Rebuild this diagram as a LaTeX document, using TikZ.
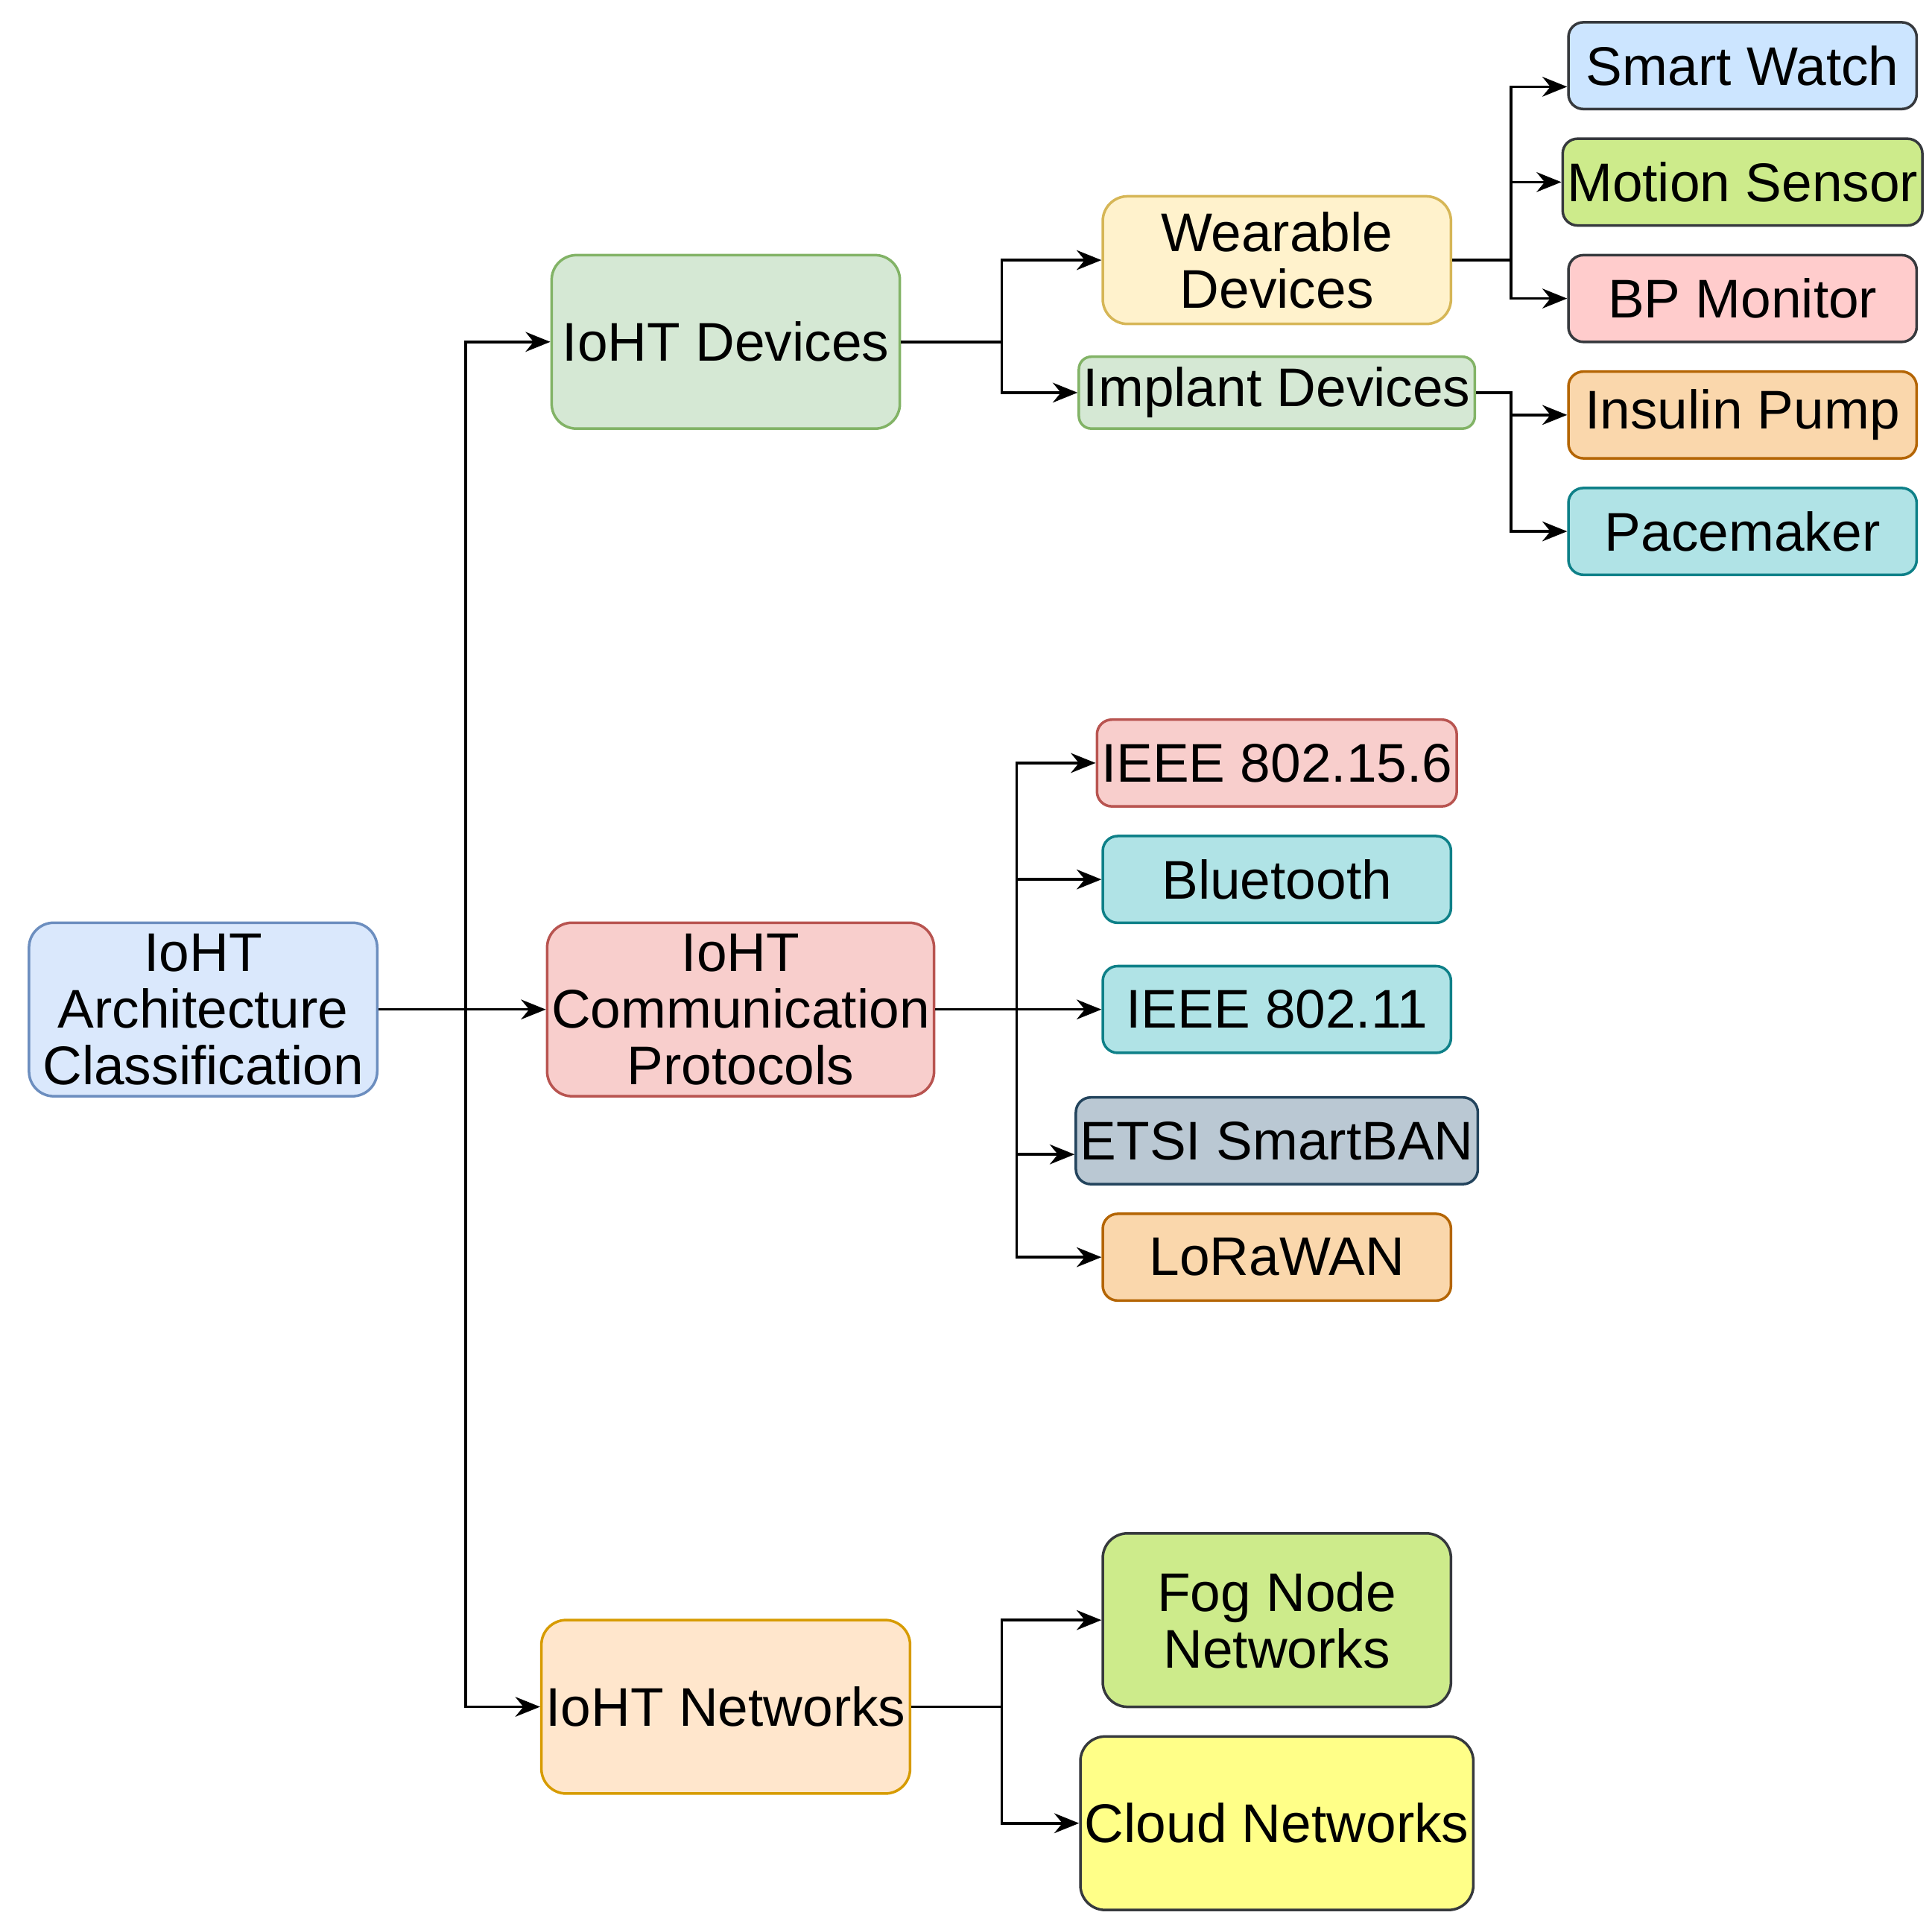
\documentclass[tikz,border=0pt]{standalone}
\usepackage{fontspec}
\setmainfont{Liberation Sans}
\usetikzlibrary{arrows.meta,positioning}
\definecolor{blueF}{HTML}{DAE8FC}\definecolor{blueD}{HTML}{6C8EBF}
\definecolor{greenF}{HTML}{D5E8D4}\definecolor{greenD}{HTML}{82B366}
\definecolor{redF}{HTML}{F8CECC}\definecolor{redD}{HTML}{B85450}
\definecolor{orangeF}{HTML}{FFE6CC}\definecolor{orangeD}{HTML}{D79B00}
\definecolor{yellowF}{HTML}{FFF2CC}\definecolor{yellowD}{HTML}{D6B656}
\definecolor{skyF}{HTML}{CCE5FF}\definecolor{darkD}{HTML}{36393D}
\definecolor{limeF}{HTML}{CDEB8B}\definecolor{pinkF}{HTML}{FFCCCC}
\definecolor{peachF}{HTML}{FAD7AC}\definecolor{peachD}{HTML}{B46504}
\definecolor{tealF}{HTML}{B0E3E6}\definecolor{tealD}{HTML}{0E8088}
\definecolor{slateF}{HTML}{BAC8D3}\definecolor{slateD}{HTML}{23445D}
\definecolor{lemonF}{HTML}{FFFF88}
\begin{document}
\begin{tikzpicture}[x=0.01cm,y=-0.01cm]
    \tikzset{Caja/.style = {shape=rectangle,rounded corners=0.2cm,draw,line width=0.6pt,minimum width=2.81cm,inner sep=1pt,align=center,font=\fontsize{12.5}{13}\selectfont}}
    \tikzset{Grande/.style = {Caja,minimum height=1.4cm}}
    \tikzset{Chica/.style = {Caja,minimum height=0.7cm,rounded corners=0.12cm}}
    \tikzset{flecha/.style = {-{Stealth[length=0.2cm,width=0.16cm]},line width=0.6pt,black}}

    \useasboundingbox (0,0) rectangle (1560,1553);

    \node[Grande,fill=blueF,draw=blueD] (raiz) at (164,815) {IoHT\\Architecture\\Classification};

    \node[Grande,fill=greenF,draw=greenD] (dispositivos) at (586,276) {IoHT Devices};
    \node[Grande,fill=redF,draw=redD,minimum width=3.04cm] (protocolos) at (598,815) {IoHT\\Communication\\Protocols};
    \node[Grande,fill=orangeF,draw=orangeD] (redes) at (586,1378) {IoHT Networks};

    \node[Caja,fill=yellowF,draw=yellowD,minimum height=1.03cm] (vestibles) at (1031,210) {Wearable\\Devices};
    \node[Caja,fill=greenF,draw=greenD,minimum height=0.58cm,rounded corners=0.1cm] (implantes) at (1031,317) {Implant Devices};

    \node[Chica,fill=skyF,draw=darkD] (reloj) at (1407,53) {Smart Watch};
    \node[Chica,fill=limeF,draw=darkD] (movimiento) at (1407,147) {Motion Sensor};
    \node[Chica,fill=pinkF,draw=darkD] (presion) at (1407,241) {BP Monitor};
    \node[Chica,fill=peachF,draw=peachD] (insulina) at (1407,335) {Insulin Pump};
    \node[Chica,fill=tealF,draw=tealD] (marcapasos) at (1407,429) {Pacemaker};

    \node[Chica,fill=redF,draw=redD] (ieeeBan) at (1031,616) {IEEE 802.15.6};
    \node[Chica,fill=tealF,draw=tealD] (bluetooth) at (1031,710) {Bluetooth};
    \node[Chica,fill=tealF,draw=tealD] (ieeeWifi) at (1031,815) {IEEE 802.11};
    \node[Chica,fill=slateF,draw=slateD] (etsi) at (1031,921) {ETSI SmartBAN};
    \node[Chica,fill=peachF,draw=peachD] (lora) at (1031,1015) {LoRaWAN};

    \node[Grande,fill=limeF,draw=darkD] (niebla) at (1031,1308) {Fog Node\\Networks};
    \node[Grande,fill=lemonF,draw=darkD] (nube) at (1031,1472) {Cloud Networks};

    %Raiz a categorias
    \draw [flecha] (raiz.east) -- (376,815) |- (dispositivos.west);
    \draw [flecha] (raiz.east) -- (protocolos.west);
    \draw [flecha] (raiz.east) -- (376,815) |- (redes.west);

    %Dispositivos
    \draw [flecha] (dispositivos.east) -- (809,276) |- (vestibles.west);
    \draw [flecha] (dispositivos.east) -- (809,276) |- (implantes.west);

    \draw [flecha] (vestibles.east) -- (1220,210) |- ([yshift=-0.17cm]reloj.west);
    \draw [flecha] (vestibles.east) -- (1220,210) |- (movimiento.west);
    \draw [flecha] (vestibles.east) -- (1220,210) |- (presion.west);

    \draw [flecha] (implantes.east) -- (1220,317) |- (insulina.west);
    \draw [flecha] (implantes.east) -- (1220,317) |- (marcapasos.west);

    %Protocolos
    \draw [flecha] (protocolos.east) -- (821,815) |- (ieeeBan.west);
    \draw [flecha] (protocolos.east) -- (821,815) |- (bluetooth.west);
    \draw [flecha] (protocolos.east) -- (ieeeWifi.west);
    \draw [flecha] (protocolos.east) -- (821,815) |- ([yshift=-0.11cm]etsi.west);
    \draw [flecha] (protocolos.east) -- (821,815) |- (lora.west);

    %Redes
    \draw [flecha] (redes.east) -- (809,1378) |- (niebla.west);
    \draw [flecha] (redes.east) -- (809,1378) |- (nube.west);
\end{tikzpicture}
\end{document}
